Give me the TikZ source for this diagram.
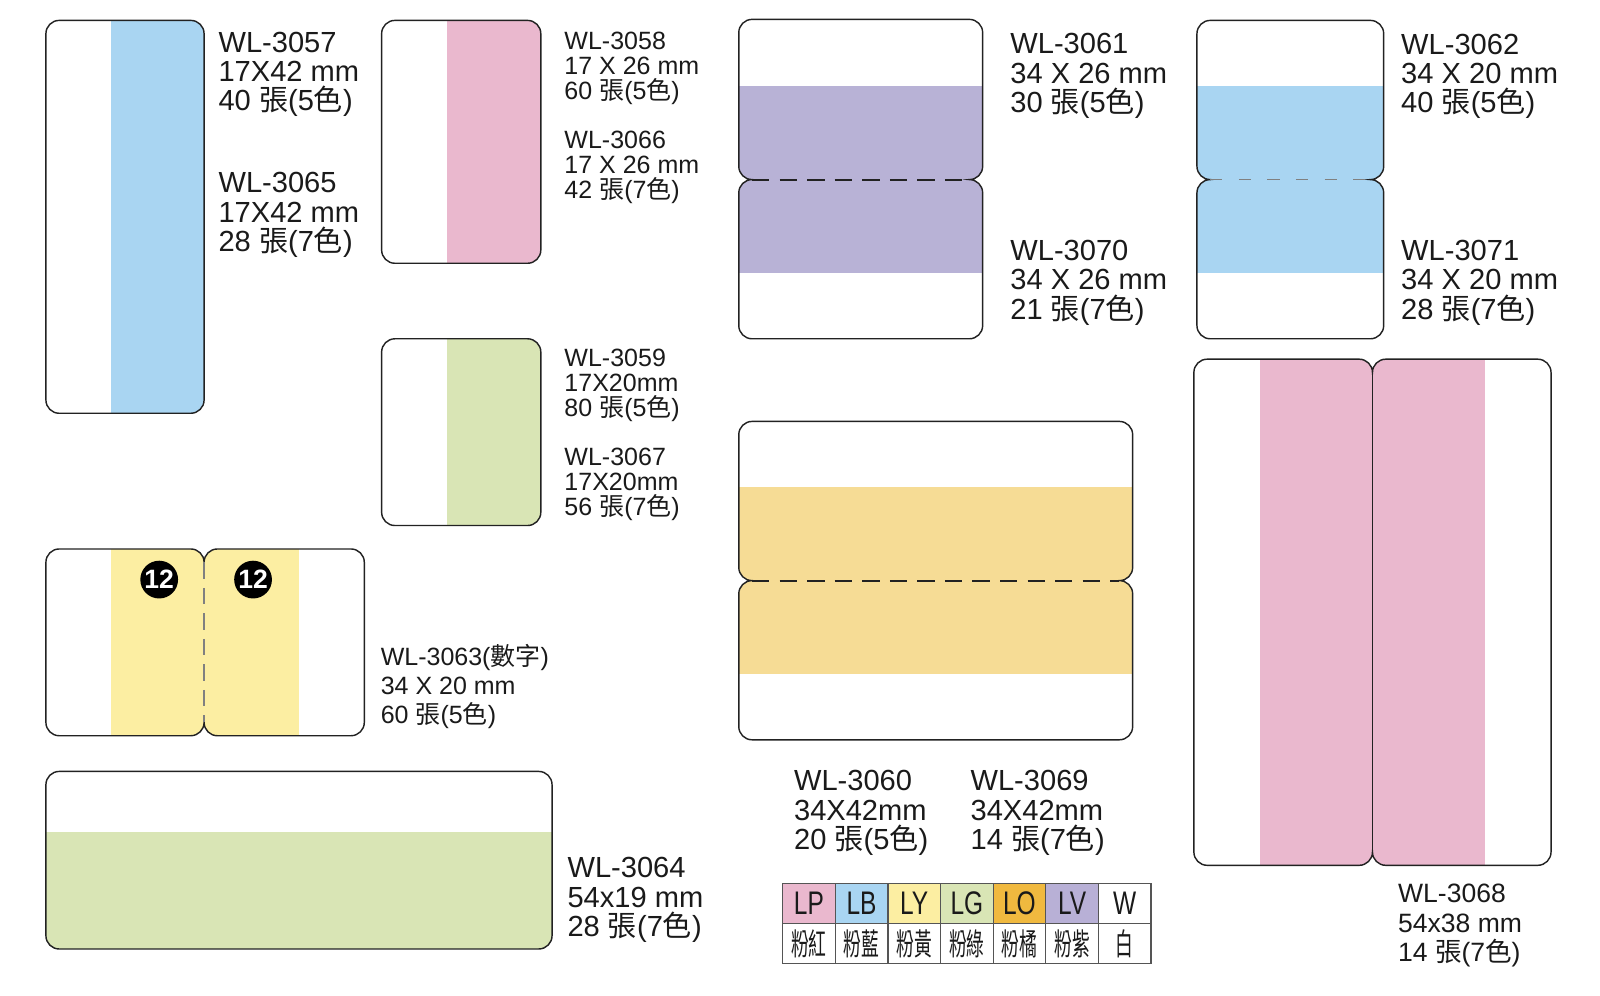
\documentclass[tikz,border=0pt]{standalone}
\usepackage{fontspec}
\setmainfont{Liberation Sans}
\newfontfamily\cjk{Noto Sans CJK TC}
\newfontfamily\legendfont[FakeStretch=0.75]{Liberation Sans}
\newfontfamily\cjknarrow[FakeStretch=0.58]{Noto Sans CJK TC}
\newcommand{\zh}[1]{{\cjk #1}}
\definecolor{cblue}{HTML}{A9D5F2}
\definecolor{cpink}{HTML}{EAB8CE}
\definecolor{cgreen}{HTML}{D9E5B5}
\definecolor{cyellow}{HTML}{FCEEA2}
\definecolor{cpurple}{HTML}{B8B2D6}
\definecolor{corange}{HTML}{F6DC95}
\definecolor{clo}{HTML}{F0B93F}
\definecolor{clv}{HTML}{B8B0D6}
\definecolor{edge}{HTML}{222222}
\definecolor{ink}{HTML}{1A1A1A}
\definecolor{gridc}{HTML}{555555}
\def\rr{13}
% two halves stacked vertically: x0,y0,x1,ym,y1
\newcommand{\stackpath}[5]{(#1,#2+\rr) arc[start angle=180,end angle=270,radius=\rr] -- (#3-\rr,#2) arc[start angle=270,end angle=360,radius=\rr] -- (#3,#4-\rr) arc[start angle=0,end angle=90,radius=\rr] arc[start angle=270,end angle=360,radius=\rr] -- (#3,#5-\rr) arc[start angle=0,end angle=90,radius=\rr] -- (#1+\rr,#5) arc[start angle=90,end angle=180,radius=\rr] -- (#1,#4+\rr) arc[start angle=180,end angle=270,radius=\rr] arc[start angle=90,end angle=180,radius=\rr] -- cycle}
% two halves side by side: x0,y0,xm,x1,y1
\newcommand{\sidepath}[5]{(#1,#2+\rr) arc[start angle=180,end angle=270,radius=\rr] -- (#3-\rr,#2) arc[start angle=270,end angle=360,radius=\rr] arc[start angle=180,end angle=270,radius=\rr] -- (#4-\rr,#2) arc[start angle=270,end angle=360,radius=\rr] -- (#4,#5-\rr) arc[start angle=0,end angle=90,radius=\rr] -- (#3+\rr,#5) arc[start angle=90,end angle=180,radius=\rr] arc[start angle=0,end angle=90,radius=\rr] -- (#1+\rr,#5) arc[start angle=90,end angle=180,radius=\rr] -- cycle}
\tikzset{
  outline/.style={draw=edge, line width=1.4pt},
  lbl/.style={anchor=north west, inner sep=0pt, align=left, text=ink},
  big/.style={lbl, font=\fontsize{28.5}{28.8}\selectfont},
  small/.style={lbl, font=\fontsize{24.5}{24.5}\selectfont},
  cell/.style={draw=gridc, line width=1.2pt, minimum width=51.57pt, minimum height=39.5pt, inner sep=0pt, text=ink},
  numdot/.style={circle, fill=black, minimum size=37pt, inner sep=0pt, text=white, font=\fontsize{26}{26}\selectfont\bfseries},
  darkdash/.style={draw=edge, line width=1.8pt, dash pattern=on 17pt off 10pt},
  greydash/.style={draw=gray, line width=1.4pt},
}
\begin{document}
\begin{tikzpicture}[x=1pt,y=-1pt]
\useasboundingbox[fill=white] (0,0) rectangle (1568,976);

% ---- WL-3057 ----
\begin{scope}
\clip[rounded corners=13] (45,20) rectangle (200,405);
\fill[cblue] (109,20) rectangle (200,405);
\end{scope}
\draw[outline, rounded corners=13] (45,20) rectangle (200,405);
\node[big] (t3057) at (214,31) {WL-3057\\17X42 mm\\40 \zh{張}(5\zh{色})};
\node[big] (t3065) at (214,169) {WL-3065\\17X42 mm\\28 \zh{張}(7\zh{色})};

% ---- WL-3058 ----
\begin{scope}
\clip[rounded corners=13] (374,20) rectangle (530,258);
\fill[cpink] (438,20) rectangle (530,258);
\end{scope}
\draw[outline, rounded corners=13] (374,20) rectangle (530,258);
\node[small] (t3058) at (553,31) {WL-3058\\17 X 26 mm\\60 \zh{張}(5\zh{色})};
\node[small] (t3066) at (553,128) {WL-3066\\17 X 26 mm\\42 \zh{張}(7\zh{色})};

% ---- WL-3059 ----
\begin{scope}
\clip[rounded corners=13] (374,332) rectangle (530,515);
\fill[cgreen] (438,332) rectangle (530,515);
\end{scope}
\draw[outline, rounded corners=13] (374,332) rectangle (530,515);
\node[small] (t3059) at (553,342) {WL-3059\\17X20mm\\80 \zh{張}(5\zh{色})};
\node[small] (t3067) at (553,439) {WL-3067\\17X20mm\\56 \zh{張}(7\zh{色})};

% ---- WL-3063 ----
\begin{scope}
\clip \sidepath{45}{538}{200}{357}{721};
\fill[cyellow] (109,538) rectangle (293,721);
\end{scope}
\draw[outline] \sidepath{45}{538}{200}{357}{721};
\coordinate (d63a) at (200,551);
\coordinate (d63b) at (200,708);
\draw[greydash, dash pattern=on 16pt off 9pt] (d63a) -- (d63b);
\node[numdot] (n12a) at (156,568) {12};
\node[numdot] (n12b) at (248,568) {12};
\node[lbl, font=\fontsize{24.5}{28.4}\selectfont] (t3063) at (373,631) {WL-3063(\zh{數字})\\34 X 20 mm\\60 \zh{張}(5\zh{色})};

% ---- WL-3064 ----
\begin{scope}
\clip[rounded corners=13] (45,756) rectangle (541,930);
\fill[cgreen] (45,815) rectangle (541,930);
\end{scope}
\draw[outline, rounded corners=13] (45,756) rectangle (541,930);
\node[big] (t3064) at (556,840) {WL-3064\\54x19 mm\\28 \zh{張}(7\zh{色})};

% ---- WL-3061 / 3070 ----
\begin{scope}
\clip \stackpath{724}{19}{963}{176}{332};
\fill[cpurple] (724,84) rectangle (963,268);
\end{scope}
\draw[outline] \stackpath{724}{19}{963}{176}{332};
\coordinate (d61a) at (737,176);
\coordinate (d61b) at (950,176);
\draw[darkdash] (d61a) -- (d61b);
\node[big] (t3061) at (990,32.5) {WL-3061\\34 X 26 mm\\30 \zh{張}(5\zh{色})};
\node[big] (t3070) at (990,235) {WL-3070\\34 X 26 mm\\21 \zh{張}(7\zh{色})};

% ---- WL-3062 / 3071 ----
\begin{scope}
\clip \stackpath{1173}{20}{1356}{176}{332};
\fill[cblue] (1173,84) rectangle (1356,268);
\end{scope}
\draw[outline] \stackpath{1173}{20}{1356}{176}{332};
\coordinate (d62a) at (1186,176);
\coordinate (d62b) at (1343,176);
\draw[greydash, dash pattern=on 12pt off 16pt] (d62a) -- (d62b);
\node[big] (t3062) at (1373,33) {WL-3062\\34 X 20 mm\\40 \zh{張}(5\zh{色})};
\node[big] (t3071) at (1373,235) {WL-3071\\34 X 20 mm\\28 \zh{張}(7\zh{色})};

% ---- WL-3060 / 3069 ----
\begin{scope}
\clip \stackpath{724}{413}{1110}{569}{725};
\fill[corange] (724,477) rectangle (1110,661);
\end{scope}
\draw[outline] \stackpath{724}{413}{1110}{569}{725};
\coordinate (d60a) at (737,569);
\coordinate (d60b) at (1097,569);
\draw[darkdash] (d60a) -- (d60b);
\node[big] (t3060) at (778,755) {WL-3060\\34X42mm\\20 \zh{張}(5\zh{色})};
\node[big] (t3069) at (951,755) {WL-3069\\34X42mm\\14 \zh{張}(7\zh{色})};

% ---- WL-3068 ----
\begin{scope}
\clip \sidepath{1170}{352}{1345}{1520}{848};
\fill[cpink] (1235,352) rectangle (1455,848);
\end{scope}
\draw[outline] \sidepath{1170}{352}{1345}{1520}{848};
\coordinate (j68a) at (1345,365);
\coordinate (j68b) at (1345,835);
\draw[draw=edge, line width=1.4pt] (j68a) -- (j68b);
\node[lbl, font=\fontsize{26}{29}\selectfont] (t3068) at (1370,866) {WL-3068\\54x38 mm\\14 \zh{張}(7\zh{色})};

% ---- colour legend ----
\foreach \i/\c/\t/\z in {0/cpink/LP/粉紅, 1/cblue/LB/粉藍, 2/cyellow/LY/粉黃, 3/cgreen/LG/粉綠, 4/clo/LO/粉橘, 5/clv/LV/粉紫, 6/white/W/白} {
  \node[cell, fill=\c, font=\fontsize{32}{32}\selectfont\legendfont] (top\i) at ({767+51.57*\i+25.785},885.2) {\t};
  \node[cell, fill=white, font=\fontsize{30}{30}\selectfont\cjknarrow] (bot\i) at ({767+51.57*\i+25.785},924.7) {\z};
}
\end{tikzpicture}
\end{document}
